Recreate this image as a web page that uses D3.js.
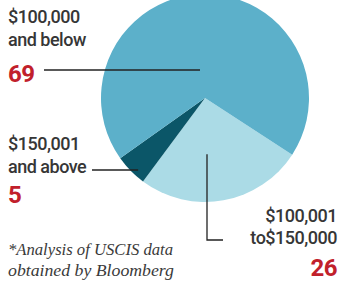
<!DOCTYPE html>
<html>
<head>
<meta charset="utf-8">
<script src="https://cdn.jsdelivr.net/npm/d3@7"></script>
<style>
  body { margin: 0; background: #fff; }
  svg { display: block; }
</style>
</head>
<body>
<div id="chart"></div>
<script>
// data
var categories = ["$100,001 to$150,000", "$150,001 and above", "$100,000 and below"];
var shares = [26, 5, 69];
var sliceColors = ["#abdbe6", "#0b5668", "#5cb0ca"];
var footnote = ["*Analysis of USCIS data", "obtained by Bloomberg"];

var width = 342, height = 286;
var cx = 205, cy = 98, radius = 104;

var svg = d3.select("#chart").append("svg")
	.attr("width", width)
	.attr("height", height);

// pie starts at the lower right edge of the light slice
var start = 123 * Math.PI / 180;
var pie = d3.pie().sort(null).value(function(d){ return d; })
	.startAngle(start).endAngle(start + 2 * Math.PI);
var arc = d3.arc().innerRadius(0).outerRadius(radius);

var slices = pie(shares);

svg.append("g")
	.attr("transform", "translate(" + cx + "," + cy + ")")
	.selectAll("path")
	.data(slices)
	.enter().append("path")
	.attr("d", arc)
	.attr("fill", function(d, i){ return sliceColors[i]; });

// helper for a point inside a slice
function inner(i, f){
	var a = (slices[i].startAngle + slices[i].endAngle) / 2;
	return [cx + Math.sin(a) * radius * f, cy - Math.cos(a) * radius * f];
}

var textColor = "#363636", red = "#c1202b";
var labelFont = "Roboto, 'Liberation Sans', sans-serif";

function label(x, y, txt, anchor, size, color, weight){
	return svg.append("text")
		.attr("x", x).attr("y", y)
		.attr("text-anchor", anchor)
		.attr("font-family", labelFont)
		.attr("font-size", size)
		.attr("font-weight", weight || 500)
		.attr("letter-spacing", "-0.5px")
		.attr("fill", color)
		.text(txt);
}

// $100,000 and below
label(8, 23, "$100,000", "start", 18, textColor);
label(8, 46, "and below", "start", 18, textColor);
label(8, 82, shares[2], "start", 24, red, "bold");
svg.append("line")
	.attr("x1", 44).attr("y1", 70)
	.attr("x2", 200).attr("y2", 70)
	.attr("stroke", "#222").attr("stroke-width", 1.3);

// $150,001 and above
label(8, 150, "$150,001", "start", 18, textColor);
label(8, 173, "and above", "start", 18, textColor);
label(8, 203, shares[1], "start", 24, red, "bold");
var p5 = inner(1, 0.9);
svg.append("line")
	.attr("x1", 92).attr("y1", 170)
	.attr("x2", p5[0]).attr("y2", 170)
	.attr("stroke", "#222").attr("stroke-width", 1.3);

// $100,001 to $150,000
label(337, 222, "$100,001", "end", 18, textColor);
label(337, 244, "to$150,000", "end", 18, textColor);
label(337, 276, shares[0], "end", 24, red, "bold");
var p26 = inner(0, 0.55);
svg.append("path")
	.attr("d", "M" + 207 + "," + p26[1] + "V240H223")
	.attr("fill", "none")
	.attr("stroke", "#222").attr("stroke-width", 1.3);

// footnote
svg.selectAll("text.note")
	.data(footnote)
	.enter().append("text")
	.attr("class", "note")
	.attr("x", 8)
	.attr("y", function(d, i){ return 255 + i * 21; })
	.attr("font-family", "'Liberation Serif', serif")
	.attr("font-style", "italic")
	.attr("font-size", 16)
	.attr("textLength", function(d, i){ return i == 0 ? 165 : 166; })
	.attr("lengthAdjust", "spacingAndGlyphs")
	.attr("fill", "#3a3a3a")
	.text(function(d){ return d; });
</script>
</body>
</html>
